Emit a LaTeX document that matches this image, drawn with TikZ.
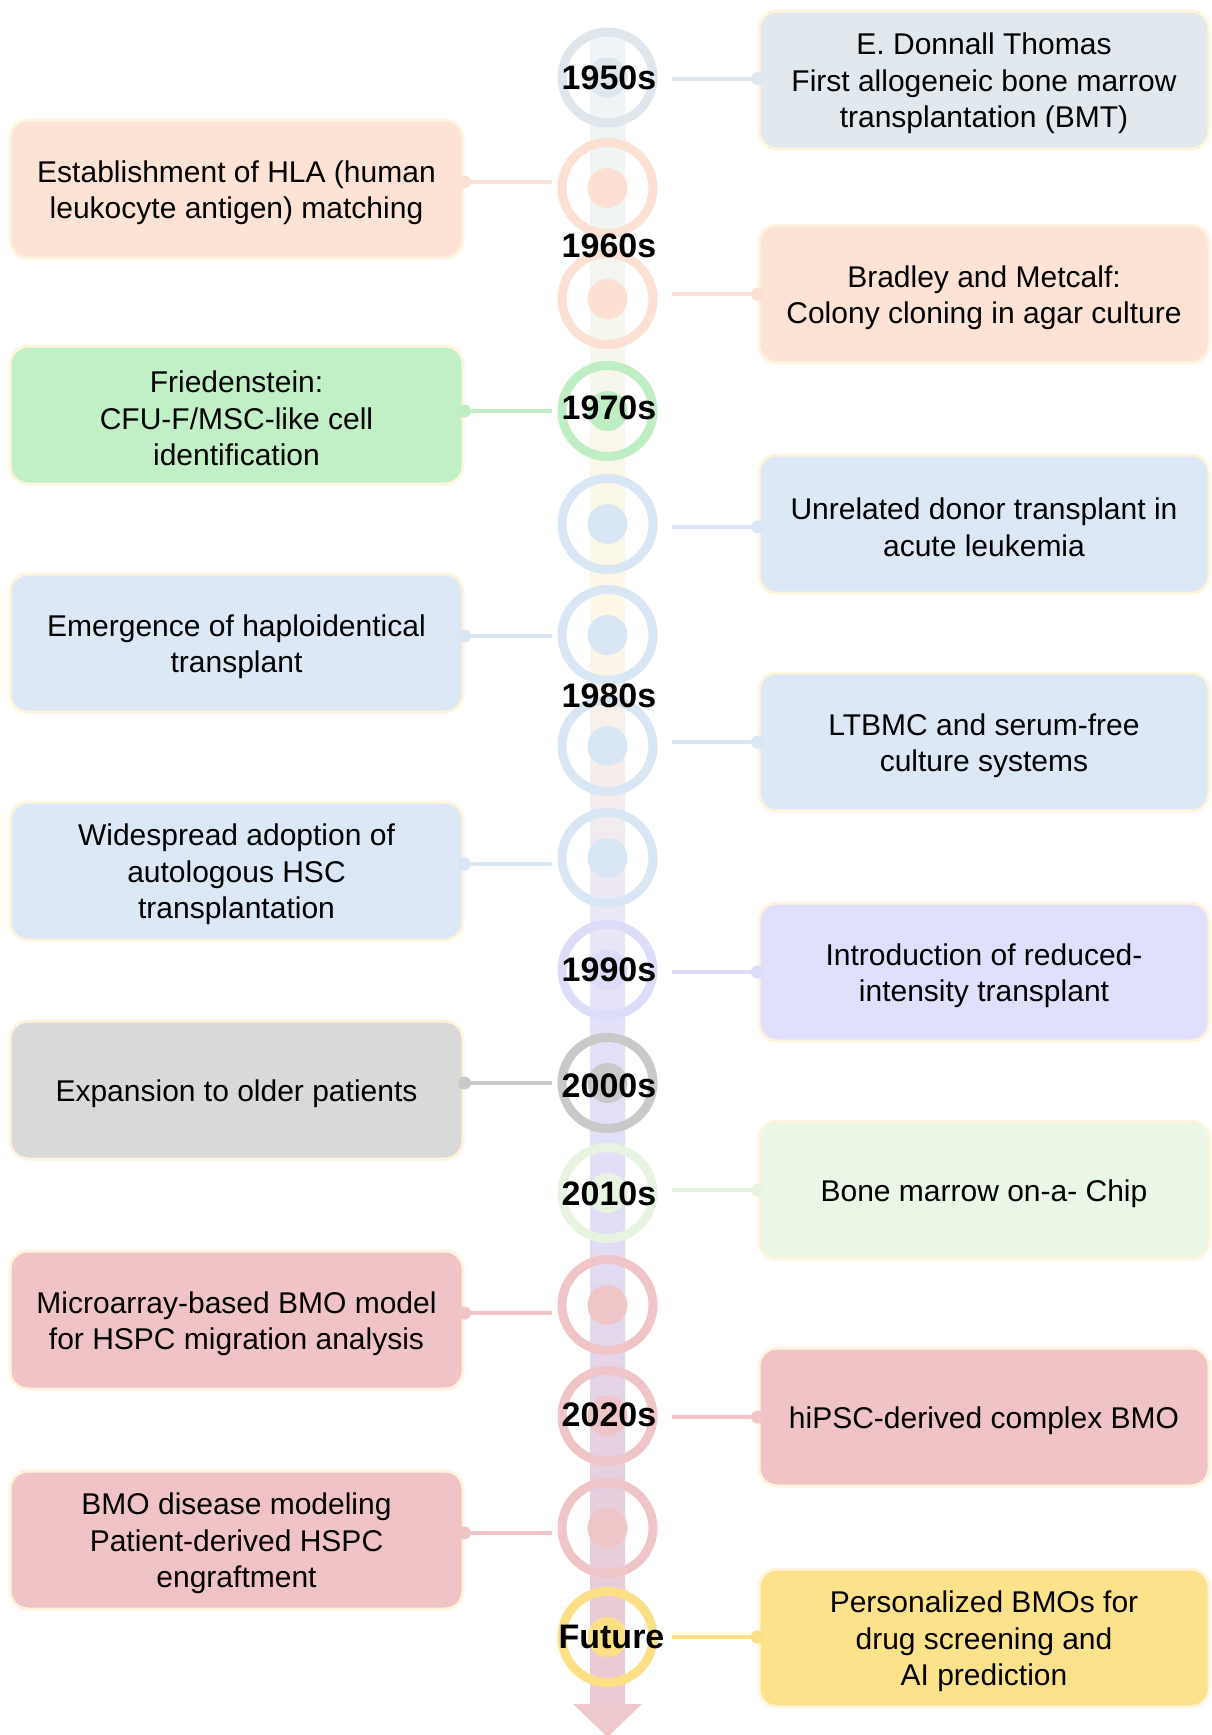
\documentclass[tikz,border=0pt]{standalone}
\usepackage{fontspec}
\setmainfont{Liberation Sans}
\usetikzlibrary{calc}
\definecolor{cream}{HTML}{FFF5DF}
\definecolor{slateB}{HTML}{E2E9EE}\definecolor{slateR}{HTML}{DFE7EC}
\definecolor{peachB}{HTML}{FCE3D6}\definecolor{peachR}{HTML}{FBE0D3}
\definecolor{greenB}{HTML}{C2F0C6}\definecolor{greenR}{HTML}{BFEDC4}
\definecolor{blueB}{HTML}{DCE8F5}\definecolor{blueR}{HTML}{D9E6F4}
\definecolor{lavB}{HTML}{E1E0FC}\definecolor{lavR}{HTML}{DDDCF9}
\definecolor{grayB}{HTML}{D9D9D9}\definecolor{grayR}{HTML}{C9C9C9}
\definecolor{lgreenB}{HTML}{EAF6E6}\definecolor{lgreenR}{HTML}{E6F4E1}
\definecolor{pinkB}{HTML}{F0C4C6}\definecolor{pinkR}{HTML}{F0C5C8}
\definecolor{yelB}{HTML}{FDE28C}\definecolor{yelR}{HTML}{FDDF86}
\definecolor{s1}{HTML}{EEF4F8}\definecolor{s2}{HTML}{F2F5F0}
\definecolor{s3}{HTML}{FAF7EA}\definecolor{s4}{HTML}{FDF8E8}
\definecolor{s5}{HTML}{F7EEEA}\definecolor{s6}{HTML}{ECE8F5}
\definecolor{s7}{HTML}{E3E1FA}\definecolor{s8}{HTML}{E1DDF6}
\definecolor{s9}{HTML}{E6D1E3}\definecolor{s10}{HTML}{EBC9D2}
\definecolor{arrowc}{HTML}{EFC8CE}
\begin{document}
\begin{tikzpicture}[x=1pt,y=-1pt,
  evbox/.style={rounded corners=18pt, draw=cream, line width=3pt,
    minimum width=450pt, minimum height=138pt, inner sep=0pt},
  evtext/.style={align=center, inner sep=0pt, text=black,
    font=\fontsize{30pt}{36.5pt}\selectfont},
  ring/.style={circle, draw=#1, line width=9pt, minimum size=91pt, inner sep=0pt},
  conn/.style={line width=4pt, draw=#1},
  year/.style={font=\fontsize{34pt}{40pt}\selectfont\bfseries, text=black, inner sep=0pt}
]
\fill[white] (0,0) rectangle (1211,1735);
\useasboundingbox (0,0) rectangle (1211,1735);

% spine
\shade[top color=s1, bottom color=s2] (590,32) rectangle (625,251);
\shade[top color=s2, bottom color=s3] (590,250) rectangle (625,451);
\shade[top color=s3, bottom color=s4] (590,450) rectangle (625,601);
\shade[top color=s4, bottom color=s5] (590,600) rectangle (625,761);
\shade[top color=s5, bottom color=s6] (590,760) rectangle (625,901);
\shade[top color=s6, bottom color=s7] (590,900) rectangle (625,1031);
\shade[top color=s7, bottom color=s8] (590,1030) rectangle (625,1231);
\shade[top color=s8, bottom color=s9] (590,1230) rectangle (625,1421);
\shade[top color=s9, bottom color=s10] (590,1420) rectangle (625,1705);
\fill[arrowc] (573,1704) -- (642,1704) -- (607.5,1737) -- cycle;

% circles
\foreach \n/\y/\c in {0/77.5/slateR, 1/188/peachR, 2/299/peachR, 3/411/greenR,
  4/524/blueR, 5/635/blueR, 6/746/blueR, 7/858/blueR, 8/970/lavR, 9/1083/grayR,
  10/1193/lgreenR, 11/1305/pinkR, 12/1416/pinkR, 13/1528/pinkR, 14/1637/yelR}{
  \node[ring=\c] (c\n) at (607.5,\y) {};
  \fill[\c] (c\n.center) circle (20);
}

% right boxes
\node[evbox, fill=slateB] (r0) at (984,80) {};
\node[evbox, fill=peachB] (r2) at (984,294) {};
\node[evbox, fill=blueB] (r4) at (984,524) {};
\node[evbox, fill=blueB] (r6) at (984,742) {};
\node[evbox, fill=lavB] (r8) at (984,972) {};
\node[evbox, fill=lgreenB] (r10) at (984,1190) {};
\node[evbox, fill=pinkB] (r12) at (984,1417) {};
\node[evbox, fill=yelB] (r14) at (984,1638) {};

% left boxes
\node[evbox, fill=peachB, minimum width=453pt] (l1) at (236.5,189) {};
\node[evbox, fill=greenB, minimum width=453pt] (l3) at (236.5,415) {};
\node[evbox, fill=blueB, minimum width=453pt] (l5) at (236.5,643) {};
\node[evbox, fill=blueB, minimum width=453pt] (l7) at (236.5,871) {};
\node[evbox, fill=grayB, minimum width=453pt] (l9) at (236.5,1090) {};
\node[evbox, fill=pinkB, minimum width=453pt] (l11) at (236.5,1320) {};
\node[evbox, fill=pinkB, minimum width=453pt] (l13) at (236.5,1540) {};

% box texts
\node[evtext] (r0t) at ($(r0.center)+(0,3.5)$) {E. Donnall Thomas\\First allogeneic bone marrow\\transplantation (BMT)};
\node[evtext] (r2t) at ($(r2.center)+(0,3.5)$) {Bradley and Metcalf:\\Colony cloning in agar culture};
\node[evtext] (r4t) at ($(r4.center)+(0,3.5)$) {Unrelated donor transplant in\\acute leukemia};
\node[evtext] (r6t) at ($(r6.center)+(0,3.5)$) {LTBMC and serum-free\\culture systems};
\node[evtext] (r8t) at ($(r8.center)+(0,3.5)$) {Introduction of reduced-\\intensity transplant};
\node[evtext] (r10t) at ($(r10.center)+(0,3.5)$) {Bone marrow on-a- Chip};
\node[evtext] (r12t) at ($(r12.center)+(0,3.5)$) {hiPSC-derived complex BMO};
\node[evtext] (r14t) at ($(r14.center)+(0,3.5)$) {Personalized BMOs for\\drug screening and\\AI prediction};
\node[evtext] (l1t) at ($(l1.center)+(0,3.5)$) {Establishment of HLA (human\\leukocyte antigen) matching};
\node[evtext] (l3t) at ($(l3.center)+(0,3.5)$) {Friedenstein:\\CFU-F/MSC-like cell\\identification};
\node[evtext] (l5t) at ($(l5.center)+(0,3.5)$) {Emergence of haploidentical\\transplant};
\node[evtext] (l7t) at ($(l7.center)+(0,3.5)$) {Widespread adoption of\\autologous HSC\\transplantation};
\node[evtext] (l9t) at ($(l9.center)+(0,3.5)$) {Expansion to older patients};
\node[evtext] (l11t) at ($(l11.center)+(0,3.5)$) {Microarray-based BMO model\\for HSPC migration analysis};
\node[evtext] (l13t) at ($(l13.center)+(0,3.5)$) {BMO disease modeling\\Patient-derived HSPC\\engraftment};

% right connectors
\foreach \n/\c/\dy in {0/slateR/-1.5, 2/peachR/0, 4/blueR/3, 6/blueR/0, 8/lavR/0, 10/lgreenR/0, 12/pinkR/0, 14/yelR/-1}{
  \coordinate (q\n) at ($(r\n.west)+(0,\dy)$);
  \draw[conn=\c] ($(q\n -| c\n.east)+(14,0)$) -- (q\n);
  \fill[\c] (q\n) circle (6.5);
}
% left connectors
\foreach \n/\c/\dy in {1/peachR/-7, 3/greenR/-4, 5/blueR/-7, 7/blueR/-7, 9/grayR/-7, 11/pinkR/-7, 13/pinkR/-7}{
  \coordinate (p\n) at ($(l\n.east)+(0,\dy)$);
  \draw[conn=\c] (p\n) -- ($(p\n -| c\n.west)+(-6,0)$);
  \fill[\c] (p\n) circle (6.5);
}

% year labels
\node[year] (y1950) at (609,77.5) {1950s};
\node[year] (y1960) at (609,246) {1960s};
\node[year] (y1970) at (609,408) {1970s};
\node[year] (y1980) at (609,696) {1980s};
\node[year] (y1990) at (609,970) {1990s};
\node[year] (y2000) at (609,1086) {2000s};
\node[year] (y2010) at (609,1194) {2010s};
\node[year] (y2020) at (609,1415) {2020s};
\node[year] (yfut) at (611.5,1637) {Future};
\end{tikzpicture}
\end{document}
